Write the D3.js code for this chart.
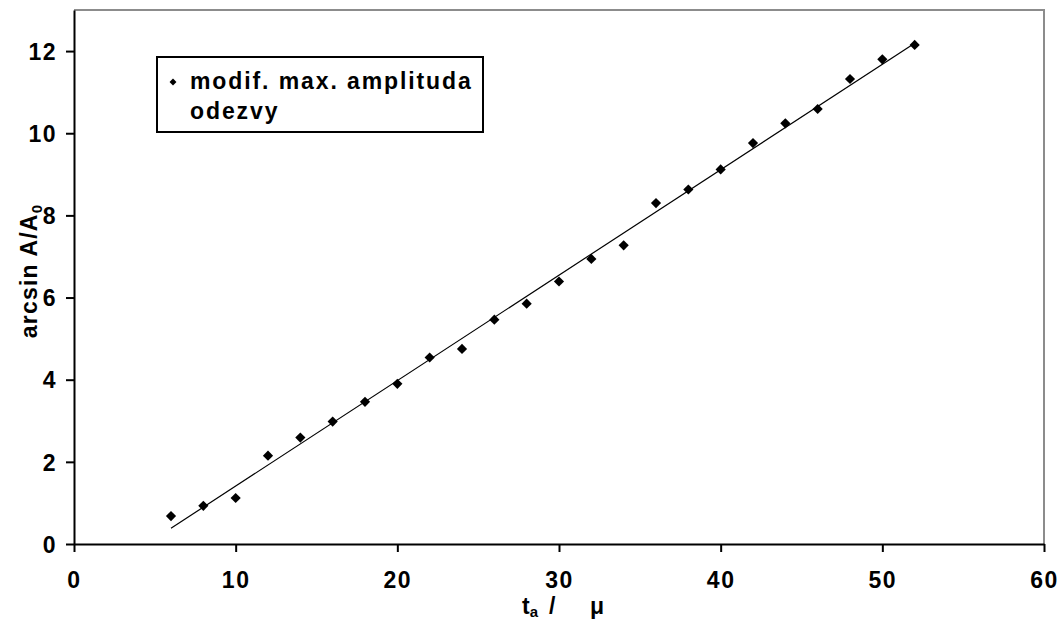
<!DOCTYPE html>
<html>
<head>
<meta charset="utf-8">
<script src="https://cdn.jsdelivr.net/npm/d3@7"></script>
<style>
  body { margin: 0; background: #fff; }
  svg text { font-family: Arial, "Liberation Sans", sans-serif; font-weight: bold; fill: #000; }
</style>
</head>
<body>
<div id="chart"></div>
<script>
// values
const tValues = [6, 8, 10, 12, 14, 16, 18, 20, 22, 24, 26, 28, 30, 32, 34, 36, 38, 40, 42, 44, 46, 48, 50, 52];
const arcsinValues = [0.68, 0.93, 1.12, 2.15, 2.59, 2.98, 3.46, 3.90, 4.54, 4.75, 5.46, 5.85, 6.39, 6.94, 7.27, 8.30, 8.63, 9.12, 9.76, 10.24, 10.59, 11.32, 11.80, 12.15];
const xTicks = [0, 10, 20, 30, 40, 50, 60];
const yTicks = [0, 2, 4, 6, 8, 10, 12];
const legendLines = ["modif. max. amplituda", "odezvy"];

const W = 1061, H = 621;
const margin = { top: 10, right: 17, bottom: 77, left: 74 };
const width = W - margin.left - margin.right;
const height = H - margin.top - margin.bottom;

const svg = d3.select("#chart")
  .append("svg")
  .attr("width", W)
  .attr("height", H);

const g = svg.append("g")
  .attr("transform", "translate(" + margin.left + "," + margin.top + ")");

const x = d3.scaleLinear().domain([0, 60]).range([0, width]);
const y = d3.scaleLinear().domain([0, 13]).range([height, 0]);

// plot area border (top / right, grey)
g.append("path")
  .attr("d", "M0,0H" + width + "V" + height)
  .attr("fill", "none")
  .attr("stroke", "#8c8c8c")
  .attr("stroke-width", 2);

// axes
const xAxis = g.append("g")
  .attr("transform", "translate(0," + height + ")")
  .call(d3.axisBottom(x).tickValues(xTicks).tickSize(8).tickPadding(20).tickSizeOuter(0));
const yAxis = g.append("g")
  .call(d3.axisLeft(y).tickValues(yTicks).tickSize(8).tickPadding(9).tickSizeOuter(0));

[xAxis, yAxis].forEach(a => {
  a.select(".domain").attr("stroke", "#000").attr("stroke-width", 2);
  a.selectAll(".tick line").attr("stroke", "#000").attr("stroke-width", 2);
  a.selectAll(".tick text")
    .style("font-family", "Arial, 'Liberation Sans', sans-serif")
    .style("font-weight", "bold")
    .style("font-size", "23px")
    .style("letter-spacing", "1.5px")
    .attr("fill", "#000");
});
yAxis.selectAll(".tick text").attr("dy", "0.36em");

// linear trend line (least squares)
const pts = tValues.map((t, i) => ({ t: t, v: arcsinValues[i] }));
const mx = d3.mean(tValues), my = d3.mean(arcsinValues);
const slope = d3.sum(pts, p => (p.t - mx) * (p.v - my)) / d3.sum(pts, p => (p.t - mx) * (p.t - mx));
const icpt = my - slope * mx;
const tMin = d3.min(tValues), tMax = d3.max(tValues);

g.append("line")
  .attr("x1", x(tMin)).attr("y1", y(icpt + slope * tMin))
  .attr("x2", x(tMax)).attr("y2", y(icpt + slope * tMax))
  .attr("stroke", "#000")
  .attr("stroke-width", 1.2);

// markers
const diamond = d3.symbol().type(d3.symbolSquare).size(52);
g.selectAll(".pt")
  .data(pts)
  .enter()
  .append("path")
  .attr("class", "pt")
  .attr("d", diamond)
  .attr("transform", d => "translate(" + x(d.t) + "," + y(d.v) + ") rotate(45)")
  .attr("fill", "#000");

// legend
const leg = svg.append("g").attr("transform", "translate(157,57)");
leg.append("rect")
  .attr("width", 326).attr("height", 75)
  .attr("fill", "#fff")
  .attr("stroke", "#000")
  .attr("stroke-width", 2);
leg.append("path")
  .attr("d", d3.symbol().type(d3.symbolSquare).size(24))
  .attr("transform", "translate(16,25) rotate(45)")
  .attr("fill", "#000");
leg.selectAll(".lt")
  .data(legendLines)
  .enter()
  .append("text")
  .attr("x", 33)
  .attr("y", (d, i) => 32 + i * 30)
  .style("font-size", "23px")
  .style("letter-spacing", "1.9px")
  .text(d => d);

// y axis title
svg.append("text")
  .attr("transform", "translate(37," + (margin.top + height / 2 - 6) + ") rotate(-90)")
  .attr("text-anchor", "middle")
  .style("font-size", "23px")
  .style("letter-spacing", "1.2px")
  .call(t => {
    t.append("tspan").text("arcsin A/A");
    t.append("tspan").attr("dy", 5).style("font-size", "15px").text("0");
  });

// x axis title
const xt = svg.append("text").attr("y", 614).style("font-size", "23px");
xt.append("tspan").attr("x", 522).text("t");
xt.append("tspan").attr("dy", 3).style("font-size", "15px").text("a");
xt.append("tspan").attr("dy", -3).attr("x", 549).text("/");
xt.append("tspan").attr("x", 590).text("μ");
</script>
</body>
</html>
